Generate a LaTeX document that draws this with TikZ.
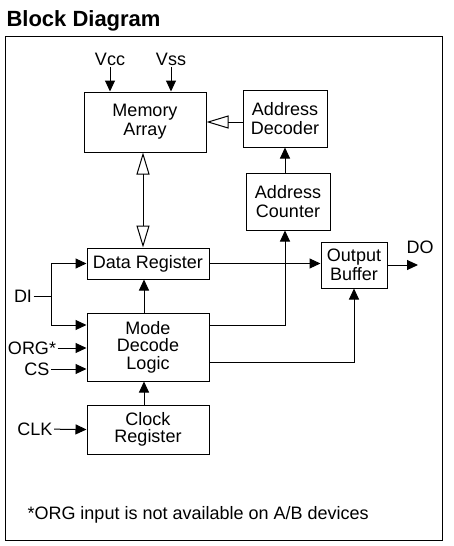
\documentclass[tikz,border=0pt]{standalone}
\usepackage{fontspec}
\setmainfont{Liberation Sans}
\usepackage{tikz}
\usetikzlibrary{
  arrows.meta,
  positioning,
  calc,
}

\begin{document}
\begin{tikzpicture}[
    x=1pt, y=-1pt,
    line width=1pt,
    block/.style={draw, rectangle, align=center, inner sep=0pt,
      font=\fontsize{18}{19}\selectfont},
    pin/.style={font=\fontsize{18}{19}\selectfont, inner sep=1pt},
    sig/.style={-{Triangle[length=11pt, width=10pt]}},
    bus/.style={-{Triangle[open, length=22pt, width=13pt]}},
    busboth/.style={{Triangle[open, length=22pt, width=13pt]}-{Triangle[open, length=22pt, width=13pt]}},
  ]
  \useasboundingbox (0,0) rectangle (453,546);

  % Title and frame
  \node[anchor=base west, inner sep=0pt, font=\fontsize{22}{24}\selectfont\bfseries]
    (title) at (6,27) {Block Diagram};
  \draw (5,36) rectangle (442,540);

  % Blocks
  \node[block, minimum width=122pt, minimum height=60pt] (mem)  at (145,122)   {Memory\\Array};
  \node[block, minimum width=84pt,  minimum height=57pt] (adec) at (285,118.5) {Address\\Decoder};
  \node[block, minimum width=84pt,  minimum height=57pt] (acnt) at (288,201.5) {Address\\Counter};
  \node[block, minimum width=122pt, minimum height=31pt] (dreg) at (148,263.5) {Data Register};
  \node[block, minimum width=66pt,  minimum height=46pt] (obuf) at (354,265)   {Output\\Buffer};
  \node[block, minimum width=122pt, minimum height=68pt,
        font=\fontsize{18}{17.5}\selectfont]            (mdl)  at (148,347)   {Mode\\Decode\\Logic};
  \node[block, minimum width=122pt, minimum height=49pt,
        font=\fontsize{18}{17.5}\selectfont]            (clkr) at (148,429.5) {Clock\\Register};

  % Pins
  \node[pin] (vcc)  at (110,59)  {Vcc};
  \node[pin] (vss)  at (171,59)  {Vss};
  \node[pin] (dout) at (420,247) {DO};
  \node[pin] (di)   at (23,296)  {DI};
  \node[pin] (org)  at (32,348)  {ORG*};
  \node[pin] (cs)   at (37,369)  {CS};
  \node[pin] (clk)  at (35,429)  {CLK};
  \coordinate (dij)   at (51,296);
  \coordinate (doend) at (418,265);

  % Supply and bus connections
  \draw[sig] (vcc) -- (vcc |- mem.north);
  \draw[sig] (vss) -- (vss |- mem.north);
  \draw[bus] (adec.west |- mem.east) -- (mem.east);
  \draw[busboth] ([xshift=-2pt]mem.south) -- ([xshift=-2pt]mem.south |- dreg.north);
  \draw[sig] (acnt.north -| adec.south) -- (adec.south);

  % Signal connections
  \draw (di) -- (dij);
  \draw[sig] (dij) |- (dreg.west);
  \draw[sig] (dij) |- ([yshift=22pt]mdl.west);
  \draw[sig] (org) -- (org -| mdl.west);
  \draw[sig] (cs) -- (cs -| mdl.west);
  \draw[sig] (clk) -- (clkr.west);
  \draw[sig] ([xshift=-4pt]clkr.north) -- ([xshift=-4pt]mdl.south);
  \draw[sig] ([xshift=-4pt]mdl.north) -- ([xshift=-4pt]dreg.south);
  \draw[sig] (dreg.east) -- (dreg.east -| obuf.west);
  \draw[sig] ([yshift=22pt]mdl.east) -| (acnt.south -| adec.south);
  \draw[sig] ([yshift=-15pt]mdl.east) -| (obuf.south);
  \draw[sig] (obuf.east |- doend) -- (doend);

  \node[anchor=base west, inner sep=0pt, font=\fontsize{18}{19}\selectfont]
    (note) at (27,519) {*ORG input is not available on A/B devices};
\end{tikzpicture}
\end{document}
